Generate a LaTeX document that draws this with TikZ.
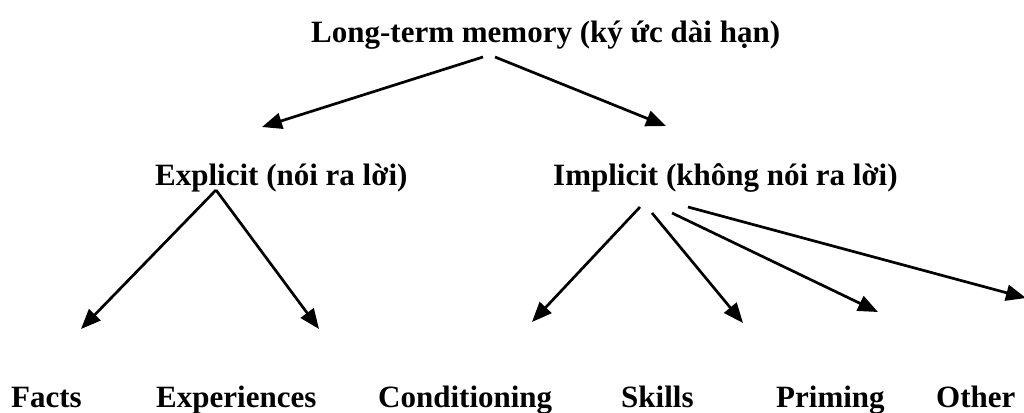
\documentclass[tikz,border=0pt]{standalone}
\usepackage{fontspec}
\setmainfont{Liberation Serif}
\usetikzlibrary{arrows.meta}
\tikzset{
  lbl/.style={font=\fontsize{31}{35}\selectfont\bfseries, inner sep=0pt, anchor=base west},
  link/.style={line width=2.7pt, -{Triangle[length=20pt,width=16pt]}}
}
\begin{document}
\begin{tikzpicture}[x=1pt,y=-1pt]
\useasboundingbox (0,0) rectangle (1024,412);
% labels
\node[lbl] (ltm) at (311,42) {Long-term memory (ký ức dài hạn)};
\node[lbl] (exp) at (155,185) {Explicit (nói ra lời)};
\node[lbl] (imp) at (553,185) {Implicit (không nói ra lời)};
\node[lbl] (facts) at (11,407) {Facts};
\node[lbl] (exper) at (156,407) {Experiences};
\node[lbl] (cond) at (378,407) {Conditioning};
\node[lbl] (skills) at (621,407) {Skills};
\node[lbl] (prim) at (776,407) {Priming};
\node[lbl] (other) at (936,407) {Other};
% connector end points
\coordinate (ltmL) at (483,57);
\coordinate (ltmR) at (495,57);
\coordinate (expT) at (262,127);
\coordinate (impT) at (666,126);
\coordinate (expS) at (216,190);
\coordinate (factsT) at (81,329);
\coordinate (experT) at (319,329);
\coordinate (impS1) at (640,207);
\coordinate (impS2) at (652,213);
\coordinate (impS3) at (672,213);
\coordinate (impS4) at (688,207);
\coordinate (condT) at (532,322);
\coordinate (skillsT) at (743,323);
\coordinate (primT) at (878,312);
\coordinate (otherT) at (1026,298);
% arrows
\draw[link] (ltmL) -- (expT);
\draw[link] (ltmR) -- (impT);
\draw[link] (expS) -- (factsT);
\draw[link] (expS) -- (experT);
\draw[link] (impS1) -- (condT);
\draw[link] (impS2) -- (skillsT);
\draw[link] (impS3) -- (primT);
\draw[link] (impS4) -- (otherT);
\end{tikzpicture}
\end{document}
